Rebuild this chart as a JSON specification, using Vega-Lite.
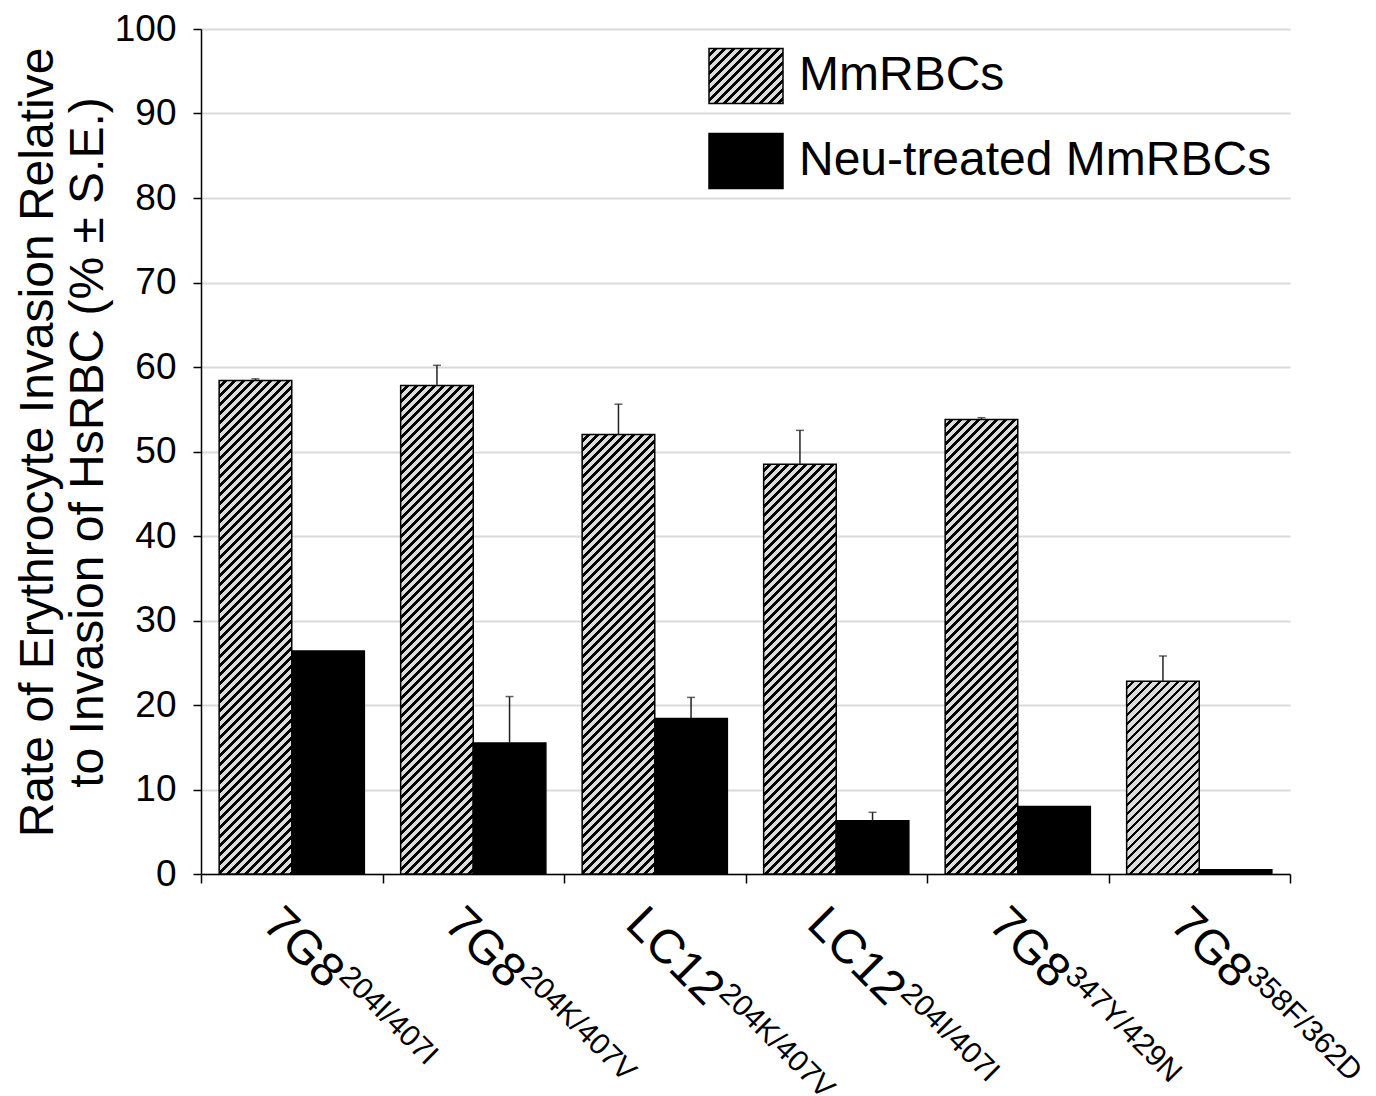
{
  "$schema": "https://vega.github.io/schema/vega-lite/v6.json",
  "width": 1089,
  "height": 845,
  "autosize": {"type": "none"},
  "padding": {"left": 201, "top": 29, "right": 86, "bottom": 222},
  "background": "white",
  "params": [
    {"name": "hatchStops", "value": [
      {"offset":0,"color":"#dcdcdc"},{"offset":0.0085,"color":"#dcdcdc"},{"offset":0.0085,"color":"#000"},{"offset":0.015,"color":"#000"},
      {"offset":0.015,"color":"#dcdcdc"},{"offset":0.0235,"color":"#dcdcdc"},{"offset":0.0235,"color":"#000"},{"offset":0.03,"color":"#000"},
      {"offset":0.03,"color":"#dcdcdc"},{"offset":0.0385,"color":"#dcdcdc"},{"offset":0.0385,"color":"#000"},{"offset":0.045,"color":"#000"},
      {"offset":0.045,"color":"#dcdcdc"},{"offset":0.0535,"color":"#dcdcdc"},{"offset":0.0535,"color":"#000"},{"offset":0.06,"color":"#000"},
      {"offset":0.06,"color":"#dcdcdc"},{"offset":0.0685,"color":"#dcdcdc"},{"offset":0.0685,"color":"#000"},{"offset":0.075,"color":"#000"},
      {"offset":0.075,"color":"#dcdcdc"},{"offset":0.0835,"color":"#dcdcdc"},{"offset":0.0835,"color":"#000"},{"offset":0.09,"color":"#000"},
      {"offset":0.09,"color":"#dcdcdc"},{"offset":0.0985,"color":"#dcdcdc"},{"offset":0.0985,"color":"#000"},{"offset":0.105,"color":"#000"},
      {"offset":0.105,"color":"#dcdcdc"},{"offset":0.1135,"color":"#dcdcdc"},{"offset":0.1135,"color":"#000"},{"offset":0.12,"color":"#000"},
      {"offset":0.12,"color":"#dcdcdc"},{"offset":0.1285,"color":"#dcdcdc"},{"offset":0.1285,"color":"#000"},{"offset":0.135,"color":"#000"},
      {"offset":0.135,"color":"#dcdcdc"},{"offset":0.1435,"color":"#dcdcdc"},{"offset":0.1435,"color":"#000"},{"offset":0.15,"color":"#000"},
      {"offset":0.15,"color":"#dcdcdc"},{"offset":0.1585,"color":"#dcdcdc"},{"offset":0.1585,"color":"#000"},{"offset":0.165,"color":"#000"},
      {"offset":0.165,"color":"#dcdcdc"},{"offset":0.1735,"color":"#dcdcdc"},{"offset":0.1735,"color":"#000"},{"offset":0.18,"color":"#000"},
      {"offset":0.18,"color":"#dcdcdc"},{"offset":0.1885,"color":"#dcdcdc"},{"offset":0.1885,"color":"#000"},{"offset":0.195,"color":"#000"},
      {"offset":0.195,"color":"#dcdcdc"},{"offset":0.2035,"color":"#dcdcdc"},{"offset":0.2035,"color":"#000"},{"offset":0.21,"color":"#000"},
      {"offset":0.21,"color":"#dcdcdc"},{"offset":0.2185,"color":"#dcdcdc"},{"offset":0.2185,"color":"#000"},{"offset":0.225,"color":"#000"},
      {"offset":0.225,"color":"#dcdcdc"},{"offset":0.2335,"color":"#dcdcdc"},{"offset":0.2335,"color":"#000"},{"offset":0.24,"color":"#000"},
      {"offset":0.24,"color":"#dcdcdc"},{"offset":0.2485,"color":"#dcdcdc"},{"offset":0.2485,"color":"#000"},{"offset":0.255,"color":"#000"},
      {"offset":0.255,"color":"#dcdcdc"},{"offset":0.2635,"color":"#dcdcdc"},{"offset":0.2635,"color":"#000"},{"offset":0.27,"color":"#000"},
      {"offset":0.27,"color":"#dcdcdc"},{"offset":0.2785,"color":"#dcdcdc"},{"offset":0.2785,"color":"#000"},{"offset":0.285,"color":"#000"},
      {"offset":0.285,"color":"#dcdcdc"},{"offset":0.2935,"color":"#dcdcdc"},{"offset":0.2935,"color":"#000"},{"offset":0.3,"color":"#000"},
      {"offset":0.3,"color":"#dcdcdc"},{"offset":0.3085,"color":"#dcdcdc"},{"offset":0.3085,"color":"#000"},{"offset":0.315,"color":"#000"},
      {"offset":0.315,"color":"#dcdcdc"},{"offset":0.3235,"color":"#dcdcdc"},{"offset":0.3235,"color":"#000"},{"offset":0.33,"color":"#000"},
      {"offset":0.33,"color":"#dcdcdc"},{"offset":0.3385,"color":"#dcdcdc"},{"offset":0.3385,"color":"#000"},{"offset":0.345,"color":"#000"},
      {"offset":0.345,"color":"#dcdcdc"},{"offset":0.3535,"color":"#dcdcdc"},{"offset":0.3535,"color":"#000"},{"offset":0.36,"color":"#000"},
      {"offset":0.36,"color":"#dcdcdc"},{"offset":0.3685,"color":"#dcdcdc"},{"offset":0.3685,"color":"#000"},{"offset":0.375,"color":"#000"},
      {"offset":0.375,"color":"#dcdcdc"},{"offset":0.3835,"color":"#dcdcdc"},{"offset":0.3835,"color":"#000"},{"offset":0.39,"color":"#000"},
      {"offset":0.39,"color":"#dcdcdc"},{"offset":0.3985,"color":"#dcdcdc"},{"offset":0.3985,"color":"#000"},{"offset":0.405,"color":"#000"},
      {"offset":0.405,"color":"#dcdcdc"},{"offset":0.4135,"color":"#dcdcdc"},{"offset":0.4135,"color":"#000"},{"offset":0.42,"color":"#000"},
      {"offset":0.42,"color":"#dcdcdc"},{"offset":0.4285,"color":"#dcdcdc"},{"offset":0.4285,"color":"#000"},{"offset":0.435,"color":"#000"},
      {"offset":0.435,"color":"#dcdcdc"},{"offset":0.4435,"color":"#dcdcdc"},{"offset":0.4435,"color":"#000"},{"offset":0.45,"color":"#000"},
      {"offset":0.45,"color":"#dcdcdc"},{"offset":0.4585,"color":"#dcdcdc"},{"offset":0.4585,"color":"#000"},{"offset":0.465,"color":"#000"},
      {"offset":0.465,"color":"#dcdcdc"},{"offset":0.4735,"color":"#dcdcdc"},{"offset":0.4735,"color":"#000"},{"offset":0.48,"color":"#000"},
      {"offset":0.48,"color":"#dcdcdc"},{"offset":0.4885,"color":"#dcdcdc"},{"offset":0.4885,"color":"#000"},{"offset":0.495,"color":"#000"},
      {"offset":0.495,"color":"#dcdcdc"},{"offset":0.5035,"color":"#dcdcdc"},{"offset":0.5035,"color":"#000"},{"offset":0.51,"color":"#000"},
      {"offset":0.51,"color":"#dcdcdc"},{"offset":0.5185,"color":"#dcdcdc"},{"offset":0.5185,"color":"#000"},{"offset":0.525,"color":"#000"},
      {"offset":0.525,"color":"#dcdcdc"},{"offset":0.5335,"color":"#dcdcdc"},{"offset":0.5335,"color":"#000"},{"offset":0.54,"color":"#000"},
      {"offset":0.54,"color":"#dcdcdc"},{"offset":0.5485,"color":"#dcdcdc"},{"offset":0.5485,"color":"#000"},{"offset":0.555,"color":"#000"},
      {"offset":0.555,"color":"#dcdcdc"},{"offset":0.5635,"color":"#dcdcdc"},{"offset":0.5635,"color":"#000"},{"offset":0.57,"color":"#000"},
      {"offset":0.57,"color":"#dcdcdc"},{"offset":0.5785,"color":"#dcdcdc"},{"offset":0.5785,"color":"#000"},{"offset":0.585,"color":"#000"},
      {"offset":0.585,"color":"#dcdcdc"},{"offset":0.5935,"color":"#dcdcdc"},{"offset":0.5935,"color":"#000"},{"offset":0.6,"color":"#000"},
      {"offset":0.6,"color":"#dcdcdc"},{"offset":0.6085,"color":"#dcdcdc"},{"offset":0.6085,"color":"#000"},{"offset":0.615,"color":"#000"},
      {"offset":0.615,"color":"#dcdcdc"},{"offset":0.6235,"color":"#dcdcdc"},{"offset":0.6235,"color":"#000"},{"offset":0.63,"color":"#000"},
      {"offset":0.63,"color":"#dcdcdc"},{"offset":0.6385,"color":"#dcdcdc"},{"offset":0.6385,"color":"#000"},{"offset":0.645,"color":"#000"},
      {"offset":0.645,"color":"#dcdcdc"},{"offset":0.6535,"color":"#dcdcdc"},{"offset":0.6535,"color":"#000"},{"offset":0.66,"color":"#000"},
      {"offset":0.66,"color":"#dcdcdc"},{"offset":0.6685,"color":"#dcdcdc"},{"offset":0.6685,"color":"#000"},{"offset":0.675,"color":"#000"},
      {"offset":0.675,"color":"#dcdcdc"},{"offset":0.6835,"color":"#dcdcdc"},{"offset":0.6835,"color":"#000"},{"offset":0.69,"color":"#000"},
      {"offset":0.69,"color":"#dcdcdc"},{"offset":0.6985,"color":"#dcdcdc"},{"offset":0.6985,"color":"#000"},{"offset":0.705,"color":"#000"},
      {"offset":0.705,"color":"#dcdcdc"},{"offset":0.7135,"color":"#dcdcdc"},{"offset":0.7135,"color":"#000"},{"offset":0.72,"color":"#000"},
      {"offset":0.72,"color":"#dcdcdc"},{"offset":0.7285,"color":"#dcdcdc"},{"offset":0.7285,"color":"#000"},{"offset":0.735,"color":"#000"},
      {"offset":0.735,"color":"#dcdcdc"},{"offset":0.7435,"color":"#dcdcdc"},{"offset":0.7435,"color":"#000"},{"offset":0.75,"color":"#000"},
      {"offset":0.75,"color":"#dcdcdc"},{"offset":0.7585,"color":"#dcdcdc"},{"offset":0.7585,"color":"#000"},{"offset":0.765,"color":"#000"},
      {"offset":0.765,"color":"#dcdcdc"},{"offset":0.7735,"color":"#dcdcdc"},{"offset":0.7735,"color":"#000"},{"offset":0.78,"color":"#000"},
      {"offset":0.78,"color":"#dcdcdc"},{"offset":0.7885,"color":"#dcdcdc"},{"offset":0.7885,"color":"#000"},{"offset":0.795,"color":"#000"},
      {"offset":0.795,"color":"#dcdcdc"},{"offset":0.8035,"color":"#dcdcdc"},{"offset":0.8035,"color":"#000"},{"offset":0.81,"color":"#000"},
      {"offset":0.81,"color":"#dcdcdc"},{"offset":0.8185,"color":"#dcdcdc"},{"offset":0.8185,"color":"#000"},{"offset":0.825,"color":"#000"},
      {"offset":0.825,"color":"#dcdcdc"},{"offset":0.8335,"color":"#dcdcdc"},{"offset":0.8335,"color":"#000"},{"offset":0.84,"color":"#000"},
      {"offset":0.84,"color":"#dcdcdc"},{"offset":0.8485,"color":"#dcdcdc"},{"offset":0.8485,"color":"#000"},{"offset":0.855,"color":"#000"},
      {"offset":0.855,"color":"#dcdcdc"},{"offset":0.8635,"color":"#dcdcdc"},{"offset":0.8635,"color":"#000"},{"offset":0.87,"color":"#000"},
      {"offset":0.87,"color":"#dcdcdc"},{"offset":0.8785,"color":"#dcdcdc"},{"offset":0.8785,"color":"#000"},{"offset":0.885,"color":"#000"},
      {"offset":0.885,"color":"#dcdcdc"},{"offset":0.8935,"color":"#dcdcdc"},{"offset":0.8935,"color":"#000"},{"offset":0.9,"color":"#000"},
      {"offset":0.9,"color":"#dcdcdc"},{"offset":0.9085,"color":"#dcdcdc"},{"offset":0.9085,"color":"#000"},{"offset":0.915,"color":"#000"},
      {"offset":0.915,"color":"#dcdcdc"},{"offset":0.9235,"color":"#dcdcdc"},{"offset":0.9235,"color":"#000"},{"offset":0.93,"color":"#000"},
      {"offset":0.93,"color":"#dcdcdc"},{"offset":0.9385,"color":"#dcdcdc"},{"offset":0.9385,"color":"#000"},{"offset":0.945,"color":"#000"},
      {"offset":0.945,"color":"#dcdcdc"},{"offset":0.9535,"color":"#dcdcdc"},{"offset":0.9535,"color":"#000"},{"offset":0.96,"color":"#000"},
      {"offset":0.96,"color":"#dcdcdc"},{"offset":0.9685,"color":"#dcdcdc"},{"offset":0.9685,"color":"#000"},{"offset":0.975,"color":"#000"},
      {"offset":0.975,"color":"#dcdcdc"},{"offset":0.9835,"color":"#dcdcdc"},{"offset":0.9835,"color":"#000"},{"offset":0.99,"color":"#000"},
      {"offset":0.99,"color":"#dcdcdc"},{"offset":1,"color":"#dcdcdc"}
    ]}
  ],
  "datasets": {
    "bars": [
      {"strain": "7G8 204I/407I", "series": "MmRBCs", "value": 58.4, "upper": 58.6},
      {"strain": "7G8 204I/407I", "series": "Neu-treated MmRBCs", "value": 26.4, "upper": null},
      {"strain": "7G8 204K/407V", "series": "MmRBCs", "value": 57.8, "upper": 60.2},
      {"strain": "7G8 204K/407V", "series": "Neu-treated MmRBCs", "value": 15.5, "upper": 21.0},
      {"strain": "LC12 204K/407V", "series": "MmRBCs", "value": 52.0, "upper": 55.6},
      {"strain": "LC12 204K/407V", "series": "Neu-treated MmRBCs", "value": 18.4, "upper": 20.9},
      {"strain": "LC12 204I/407I", "series": "MmRBCs", "value": 48.5, "upper": 52.5},
      {"strain": "LC12 204I/407I", "series": "Neu-treated MmRBCs", "value": 6.3, "upper": 7.3},
      {"strain": "7G8 347Y/429N", "series": "MmRBCs", "value": 53.8, "upper": 54.0},
      {"strain": "7G8 347Y/429N", "series": "Neu-treated MmRBCs", "value": 8.0, "upper": null},
      {"strain": "7G8 358F/362D", "series": "MmRBCs", "value": 22.8, "upper": 25.8},
      {"strain": "7G8 358F/362D", "series": "Neu-treated MmRBCs", "value": 0.5, "upper": null}
    ],
    "labels": [
      {"strain": "7G8 204I/407I", "main": "7G8", "sup": "204I/407I"},
      {"strain": "7G8 204K/407V", "main": "7G8", "sup": "204K/407V"},
      {"strain": "LC12 204K/407V", "main": "LC12", "sup": "204K/407V"},
      {"strain": "LC12 204I/407I", "main": "LC12", "sup": "204I/407I"},
      {"strain": "7G8 347Y/429N", "main": "7G8", "sup": "347Y/429N"},
      {"strain": "7G8 358F/362D", "main": "7G8", "sup": "358F/362D"}
    ]
  },
  "encoding": {
    "x": {
      "field": "strain",
      "type": "nominal",
      "sort": null,
      "scale": {
        "domain": ["7G8 204I/407I", "7G8 204K/407V", "LC12 204K/407V", "LC12 204I/407I", "7G8 347Y/429N", "7G8 358F/362D"],
        "paddingInner": 0,
        "paddingOuter": 0
      },
      "axis": {
        "labels": false,
        "title": null,
        "grid": false,
        "domainColor": "black",
        "domainWidth": 1.5,
        "tickColor": "black",
        "tickWidth": 1.5,
        "tickSize": 9,
        "tickBand": "extent"
      }
    }
  },
  "layer": [
    {
      "data": {"name": "bars"},
      "mark": {"type": "bar", "stroke": "black", "strokeWidth": 1.5},
      "encoding": {
        "xOffset": {
          "field": "series",
          "type": "nominal",
          "scale": {"domain": ["MmRBCs", "Neu-treated MmRBCs"], "paddingInner": 0, "paddingOuter": 0.25}
        },
        "y": {
          "field": "value",
          "type": "quantitative",
          "stack": null,
          "scale": {"domain": [0, 100], "nice": false},
          "title": ["Rate of Erythrocyte Invasion Relative", "to Invasion of HsRBC (% ± S.E.)"],
          "axis": {
            "values": [0, 10, 20, 30, 40, 50, 60, 70, 80, 90, 100],
            "grid": true,
            "gridColor": "#d9d9d9",
            "gridWidth": 2,
            "domainColor": "black",
            "domainWidth": 1.5,
            "tickColor": "black",
            "tickWidth": 1.5,
            "tickSize": 8,
            "labelFont": "Liberation Sans",
            "labelFontSize": 37,
            "labelColor": "black",
            "labelPadding": 17,
            "titleFont": "Liberation Sans",
            "titleFontSize": 48,
            "titleFontWeight": "normal",
            "titleColor": "black",
            "titleLineHeight": 50,
            "titlePadding": 2,
            "titleY": 413
          }
        },
        "fill": {
          "field": "series",
          "type": "nominal",
          "scale": {
            "domain": ["MmRBCs", "Neu-treated MmRBCs"],
            "range": [{"expr": "{gradient: 'linear', x1: 0, y1: 0, x2: 5.223, y2: 3.882, stops: hatchStops}"}, "#000000"]
          },
          "condition": {
            "test": "datum.series === 'MmRBCs'",
            "value": {"expr": "{gradient: 'linear', x1: 0, y1: 0, x2: 600 * bandwidth('xOffset') / (pow(bandwidth('xOffset'), 2) + pow(scale('y', 0) - scale('y', datum.value), 2)), y2: 600 * (scale('y', 0) - scale('y', datum.value)) / (pow(bandwidth('xOffset'), 2) + pow(scale('y', 0) - scale('y', datum.value), 2)), stops: hatchStops}"}
          },
          "legend": {
            "orient": "none",
            "legendX": 507,
            "legendY": 9,
            "title": null,
            "padding": 0,
            "symbolType": "M-1,-0.743H1V0.743H-1Z",
            "symbolSize": 5476,
            "symbolStrokeColor": "black",
            "symbolStrokeWidth": 1.5,
            "labelFont": "Liberation Sans",
            "labelFontSize": 48,
            "labelColor": "black",
            "labelOffset": 15,
            "labelLimit": 1000,
            "rowPadding": 16,
            "encode": {
              "symbols": {
                "update": {
                  "stroke": {"value": "black"},
                  "opacity": {"value": 1}
                }
              }
            }
          }
        }
      }
    },
    {
      "data": {"name": "bars"},
      "transform": [{"filter": "datum.upper != null"}],
      "mark": {"type": "rule", "color": "#222222", "strokeWidth": 1.5},
      "encoding": {
        "xOffset": {"field": "series", "type": "nominal"},
        "y": {"field": "value", "type": "quantitative", "title": ["Rate of Erythrocyte Invasion Relative", "to Invasion of HsRBC (% ± S.E.)"]},
        "y2": {"field": "upper"}
      }
    },
    {
      "data": {"name": "bars"},
      "transform": [{"filter": "datum.upper != null"}],
      "mark": {"type": "tick", "color": "#222222", "size": 8, "thickness": 1.5, "orient": "horizontal"},
      "encoding": {
        "xOffset": {"field": "series", "type": "nominal"},
        "y": {"field": "upper", "type": "quantitative", "title": ["Rate of Erythrocyte Invasion Relative", "to Invasion of HsRBC (% ± S.E.)"]}
      }
    },
    {
      "data": {"name": "labels"},
      "mark": {"type": "text", "angle": 45, "align": "left", "baseline": "alphabetic", "dx": 15, "dy": 59, "font": "Liberation Sans", "fontSize": 48, "color": "black"},
      "encoding": {
        "y": {"datum": 0, "type": "quantitative", "title": ["Rate of Erythrocyte Invasion Relative", "to Invasion of HsRBC (% ± S.E.)"]},
        "text": {"field": "main"}
      }
    },
    {
      "data": {"name": "labels"},
      "transform": [{"filter": "datum.main === '7G8'"}],
      "mark": {"type": "text", "angle": 45, "align": "left", "baseline": "alphabetic", "dx": 106, "dy": 41, "font": "Liberation Sans", "fontSize": 30, "color": "black"},
      "encoding": {
        "y": {"datum": 0, "type": "quantitative", "title": ["Rate of Erythrocyte Invasion Relative", "to Invasion of HsRBC (% ± S.E.)"]},
        "text": {"field": "sup"}
      }
    },
    {
      "data": {"name": "labels"},
      "transform": [{"filter": "datum.main === 'LC12'"}],
      "mark": {"type": "text", "angle": 45, "align": "left", "baseline": "alphabetic", "dx": 130, "dy": 41, "font": "Liberation Sans", "fontSize": 30, "color": "black"},
      "encoding": {
        "y": {"datum": 0, "type": "quantitative", "title": ["Rate of Erythrocyte Invasion Relative", "to Invasion of HsRBC (% ± S.E.)"]},
        "text": {"field": "sup"}
      }
    }
  ],
  "config": {
    "view": {"stroke": null},
    "font": "Liberation Sans"
  }
}
